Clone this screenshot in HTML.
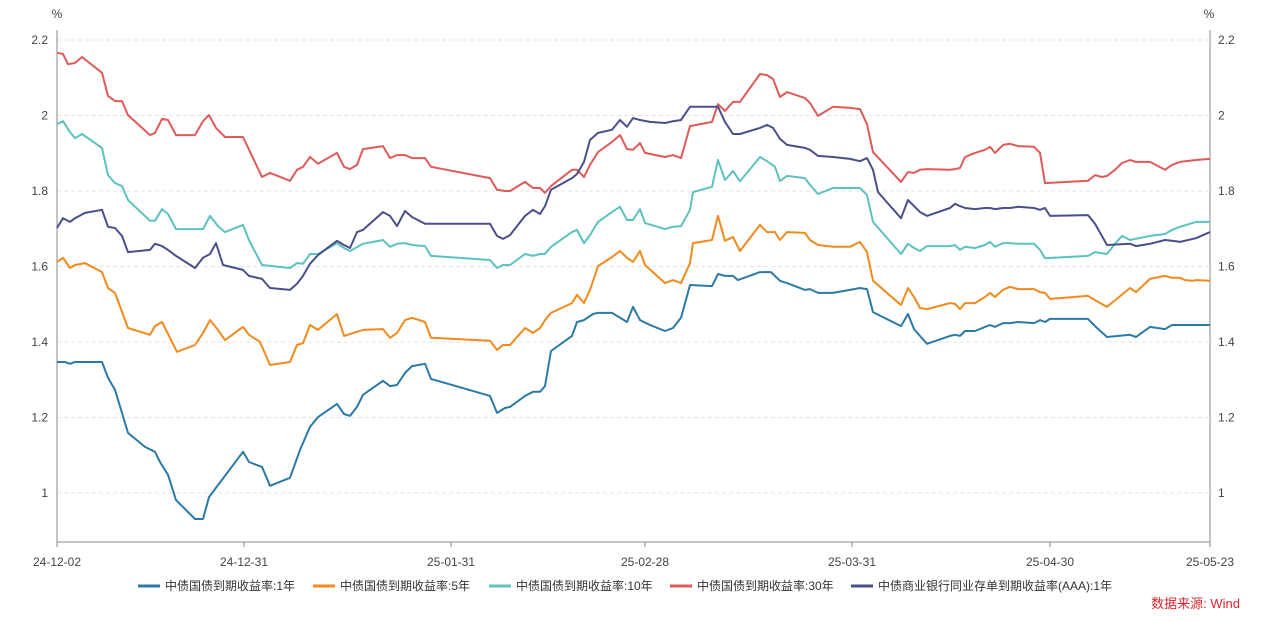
<!DOCTYPE html>
<html><head><meta charset="utf-8"><style>
body{margin:0;background:#fff;}
svg{display:block;font-family:"Liberation Sans","Noto Sans CJK SC",sans-serif;}
</style></head><body>
<svg id="chart" width="1265" height="621">
<g id="grid"></g><g id="axes"></g><g id="series"></g><g id="legend"></g>
</svg>
<script>
const yTicks=[1,1.2,1.4,1.6,1.8,2,2.2];
const xTickLabels=["24-12-02","24-12-31","25-01-31","25-02-28","25-03-31","25-04-30","25-05-23"];
const xTickPos=[0,187,394,588,795,993,1153];
const seriesNames=["中债国债到期收益率:1年","中债国债到期收益率:5年","中债国债到期收益率:10年","中债国债到期收益率:30年","中债商业银行同业存单到期收益率(AAA):1年"];
const seriesColors=["#2b7aa5","#f28a1c","#5cc2c0","#e05a5a","#4a4f8a"];
const y1=[[0,1.347],[8,1.347],[13,1.342],[18,1.347],[45,1.347],[51,1.305],[58,1.273],[65,1.212],[71,1.159],[88,1.122],[98,1.109],[103,1.082],[111,1.048],[119,0.981],[138,0.931],[146,0.931],[152,0.989],[186,1.109],[192,1.082],[205,1.069],[213,1.019],[233,1.040],[243,1.114],[253,1.175],[261,1.201],[280,1.236],[287,1.209],[293,1.204],[300,1.228],[306,1.260],[326,1.297],[333,1.283],[340,1.286],[348,1.318],[355,1.336],[368,1.342],[374,1.302],[433,1.257],[440,1.212],[448,1.225],[453,1.228],[468,1.257],[476,1.268],[483,1.268],[488,1.283],[494,1.376],[515,1.416],[520,1.453],[527,1.458],[536,1.474],[541,1.477],[555,1.477],[570,1.453],[576,1.493],[583,1.458],[593,1.445],[608,1.429],[616,1.437],[624,1.464],[633,1.551],[655,1.548],[661,1.580],[668,1.575],[676,1.575],[681,1.564],[703,1.585],[714,1.585],[723,1.562],[730,1.556],[748,1.538],[753,1.540],[761,1.530],[776,1.530],[793,1.538],[803,1.543],[810,1.540],[816,1.479],[844,1.442],[851,1.474],[857,1.434],[870,1.395],[893,1.416],[898,1.419],[903,1.416],[908,1.429],[918,1.429],[928,1.440],[933,1.445],[938,1.440],[946,1.450],[953,1.450],[961,1.453],[977,1.450],[983,1.458],[988,1.453],[993,1.461],[1031,1.461],[1038,1.442],[1050,1.413],[1073,1.419],[1079,1.413],[1093,1.440],[1108,1.434],[1115,1.445],[1123,1.445],[1153,1.445]];
const y5=[[0,1.612],[6,1.623],[13,1.596],[18,1.604],[28,1.609],[45,1.585],[51,1.543],[58,1.530],[71,1.437],[93,1.419],[98,1.442],[105,1.453],[113,1.411],[120,1.374],[138,1.392],[146,1.424],[153,1.458],[161,1.432],[168,1.405],[186,1.440],[192,1.419],[203,1.400],[213,1.339],[233,1.347],[240,1.392],[246,1.397],[253,1.445],[261,1.432],[280,1.474],[287,1.416],[306,1.432],[326,1.434],[333,1.411],[340,1.424],[348,1.458],[355,1.464],[368,1.453],[374,1.411],[433,1.403],[440,1.379],[446,1.392],[453,1.392],[468,1.437],[476,1.424],[483,1.437],[488,1.458],[494,1.477],[515,1.503],[520,1.525],[527,1.503],[533,1.538],[541,1.601],[555,1.625],[563,1.641],[570,1.623],[576,1.612],[583,1.641],[588,1.604],[608,1.556],[616,1.564],[624,1.556],[633,1.609],[636,1.662],[655,1.670],[661,1.734],[668,1.668],[676,1.678],[683,1.641],[703,1.710],[710,1.691],[718,1.691],[723,1.670],[730,1.691],[748,1.689],[753,1.670],[761,1.657],[776,1.652],[793,1.652],[803,1.665],[810,1.638],[816,1.562],[844,1.498],[851,1.543],[857,1.519],[863,1.490],[870,1.487],[893,1.503],[898,1.501],[903,1.487],[908,1.503],[918,1.503],[928,1.519],[933,1.530],[938,1.519],[946,1.538],[953,1.546],[961,1.540],[977,1.540],[983,1.532],[988,1.530],[993,1.514],[1031,1.522],[1038,1.511],[1050,1.493],[1073,1.543],[1079,1.532],[1093,1.567],[1108,1.575],[1115,1.570],[1123,1.570],[1128,1.564],[1136,1.562],[1139,1.564],[1153,1.562]];
const y10=[[0,1.977],[6,1.985],[13,1.956],[18,1.940],[25,1.951],[45,1.914],[51,1.842],[58,1.821],[65,1.813],[71,1.776],[93,1.721],[98,1.721],[105,1.752],[111,1.739],[119,1.699],[138,1.699],[146,1.699],[153,1.734],[161,1.707],[168,1.691],[186,1.710],[192,1.670],[205,1.604],[233,1.596],[240,1.609],[246,1.607],[253,1.633],[261,1.633],[280,1.662],[287,1.649],[293,1.641],[306,1.660],[326,1.670],[333,1.652],[340,1.660],[348,1.662],[355,1.657],[368,1.654],[374,1.628],[433,1.617],[440,1.596],[446,1.604],[453,1.604],[468,1.633],[476,1.628],[483,1.633],[488,1.633],[494,1.652],[515,1.691],[520,1.697],[527,1.662],[533,1.683],[541,1.718],[555,1.744],[563,1.758],[570,1.723],[576,1.723],[583,1.752],[588,1.715],[608,1.699],[616,1.705],[624,1.707],[633,1.750],[636,1.797],[655,1.811],[661,1.882],[668,1.829],[676,1.853],[683,1.826],[703,1.890],[710,1.879],[718,1.864],[723,1.826],[730,1.840],[748,1.834],[753,1.816],[761,1.792],[776,1.808],[793,1.808],[803,1.808],[810,1.789],[816,1.718],[844,1.633],[851,1.660],[857,1.649],[863,1.641],[870,1.654],[893,1.654],[898,1.657],[903,1.644],[908,1.652],[918,1.649],[928,1.657],[933,1.665],[938,1.652],[946,1.662],[953,1.662],[961,1.660],[977,1.660],[983,1.644],[988,1.622],[1031,1.628],[1038,1.638],[1050,1.633],[1058,1.660],[1065,1.681],[1073,1.670],[1093,1.681],[1108,1.686],[1115,1.697],[1123,1.705],[1139,1.718],[1153,1.718]];
const y30=[[0,2.166],[6,2.163],[11,2.136],[18,2.139],[25,2.155],[45,2.113],[51,2.052],[58,2.038],[65,2.038],[71,2.001],[93,1.948],[98,1.954],[105,1.991],[111,1.988],[119,1.948],[138,1.948],[146,1.985],[152,2.001],[159,1.967],[168,1.943],[186,1.943],[205,1.837],[213,1.848],[233,1.827],[240,1.856],[246,1.864],[253,1.890],[261,1.872],[280,1.901],[287,1.864],[293,1.858],[300,1.869],[306,1.911],[326,1.919],[333,1.887],[340,1.895],[348,1.895],[355,1.887],[368,1.887],[374,1.864],[433,1.834],[440,1.803],[448,1.800],[453,1.800],[468,1.824],[476,1.808],[483,1.808],[488,1.795],[494,1.813],[515,1.856],[520,1.856],[527,1.837],[533,1.869],[541,1.903],[555,1.930],[563,1.948],[570,1.911],[576,1.909],[583,1.927],[588,1.901],[608,1.890],[616,1.895],[624,1.887],[633,1.972],[655,1.983],[661,2.030],[668,2.012],[676,2.036],[683,2.036],[703,2.110],[710,2.107],[716,2.097],[723,2.049],[730,2.062],[748,2.046],[753,2.033],[761,1.999],[776,2.023],[793,2.020],[803,2.017],[810,1.977],[816,1.903],[844,1.824],[851,1.850],[857,1.848],[863,1.856],[870,1.858],[893,1.856],[898,1.858],[903,1.861],[908,1.890],[918,1.901],[928,1.909],[933,1.917],[938,1.901],[946,1.922],[953,1.925],[961,1.919],[977,1.917],[983,1.901],[988,1.821],[1031,1.827],[1038,1.842],[1045,1.837],[1050,1.840],[1058,1.856],[1065,1.874],[1073,1.882],[1079,1.877],[1093,1.877],[1108,1.856],[1115,1.869],[1123,1.877],[1139,1.882],[1153,1.885]];
const yAAA=[[0,1.702],[6,1.728],[13,1.718],[18,1.728],[28,1.742],[45,1.750],[51,1.705],[58,1.702],[65,1.681],[71,1.638],[93,1.644],[98,1.660],[105,1.654],[111,1.644],[119,1.628],[138,1.596],[146,1.623],[153,1.633],[159,1.662],[166,1.604],[186,1.591],[192,1.575],[205,1.567],[213,1.543],[233,1.538],[240,1.554],[246,1.575],[253,1.607],[261,1.630],[280,1.668],[287,1.657],[293,1.649],[300,1.691],[306,1.697],[326,1.744],[333,1.734],[340,1.707],[348,1.747],[355,1.731],[368,1.713],[374,1.713],[433,1.713],[440,1.681],[446,1.673],[453,1.683],[468,1.734],[476,1.750],[483,1.739],[488,1.760],[494,1.803],[515,1.834],[520,1.845],[527,1.877],[533,1.935],[541,1.954],[555,1.962],[563,1.988],[570,1.970],[576,1.993],[583,1.988],[593,1.983],[608,1.980],[616,1.985],[624,1.988],[633,2.023],[655,2.023],[661,2.023],[668,1.983],[676,1.951],[683,1.951],[703,1.967],[710,1.975],[716,1.967],[723,1.938],[730,1.922],[748,1.914],[753,1.909],[761,1.893],[776,1.890],[793,1.885],[803,1.879],[810,1.887],[816,1.856],[821,1.797],[844,1.728],[851,1.776],[857,1.760],[863,1.744],[870,1.734],[893,1.755],[898,1.766],[903,1.760],[908,1.755],[918,1.752],[928,1.755],[933,1.755],[938,1.752],[946,1.755],[953,1.755],[961,1.758],[977,1.755],[983,1.750],[988,1.755],[993,1.734],[1031,1.736],[1038,1.713],[1050,1.657],[1073,1.660],[1079,1.654],[1093,1.660],[1108,1.670],[1115,1.668],[1123,1.665],[1139,1.675],[1153,1.691]];
const allSeries=[y1,y5,y10,y30,yAAA];

const L=57,R=1210,T=40,B=542,yMin=0.87,yMax=2.2,tMax=1153;
const xs=t=>L+(t/tMax)*(R-L);
const ys=v=>B-(v-yMin)/(yMax-yMin)*(B-T);
const NS="http://www.w3.org/2000/svg";
function mk(tag,attrs,parent,text){const e=document.createElementNS(NS,tag);for(const k in attrs)e.setAttribute(k,attrs[k]);if(text!==undefined)e.textContent=text;parent.appendChild(e);return e;}
const grid=document.getElementById('grid'),axes=document.getElementById('axes'),ser=document.getElementById('series'),leg=document.getElementById('legend');
yTicks.forEach(v=>{
 const g=mk('line',{x1:L,x2:R,y1:ys(v),y2:ys(v),stroke:'#e3e3e3','stroke-dasharray':'4,3'},grid);
 
 
 const a=mk('text',{x:48,y:ys(v)+4,'text-anchor':'end','font-size':12,fill:'#444'},axes,String(v));
 
 
 const b=mk('text',{x:1218,y:ys(v)+4,'text-anchor':'start','font-size':12,fill:'#444'},axes,String(v));
 
 
});
[[L,'left-axis'],[R,'right-axis']].forEach(([x,n])=>{const l=mk('line',{x1:x,x2:x,y1:30,y2:B,stroke:'#888'},axes);});
const xa=mk('line',{x1:L,x2:R,y1:B,y2:B,stroke:'#888'},axes);


xTickLabels.forEach((s,i)=>{
 const x=xs(xTickPos[i]);
 mk('line',{x1:x,x2:x,y1:B,y2:B+5,stroke:'#888'},axes);
 const anchor=i===0?'middle':(i===xTickLabels.length-1?'middle':'middle');
 const t=mk('text',{x:x,y:566,'text-anchor':anchor,'font-size':12,fill:'#444'},axes,s);
 
 
});
const u1=mk('text',{x:57,y:18,'text-anchor':'middle','font-size':12,fill:'#444'},axes,'%');


const u2=mk('text',{x:1209,y:18,'text-anchor':'middle','font-size':12,fill:'#444'},axes,'%');


allSeries.forEach((s,i)=>{
 const d=s.map((p,j)=>(j?'L':'M')+xs(p[0]).toFixed(1)+','+ys(p[1]).toFixed(1)).join('');
 const p=mk('path',{d:d,fill:'none',stroke:seriesColors[i],'stroke-width':2,'stroke-linejoin':'round'},ser);
 
 
});
const legX=[138,313,489,670,851];
seriesNames.forEach((n,i)=>{
 const g=mk('g',{},leg);
 
 
 mk('line',{x1:legX[i],x2:legX[i]+22,y1:586,y2:586,stroke:seriesColors[i],'stroke-width':3},g);
 mk('text',{x:legX[i]+27,y:590,'font-size':12,fill:'#333'},g,n);
});
const src=mk('text',{x:1240,y:608,'text-anchor':'end','font-size':13,fill:'#e0262b'},leg,'数据来源: Wind');


</script>
</body></html>
